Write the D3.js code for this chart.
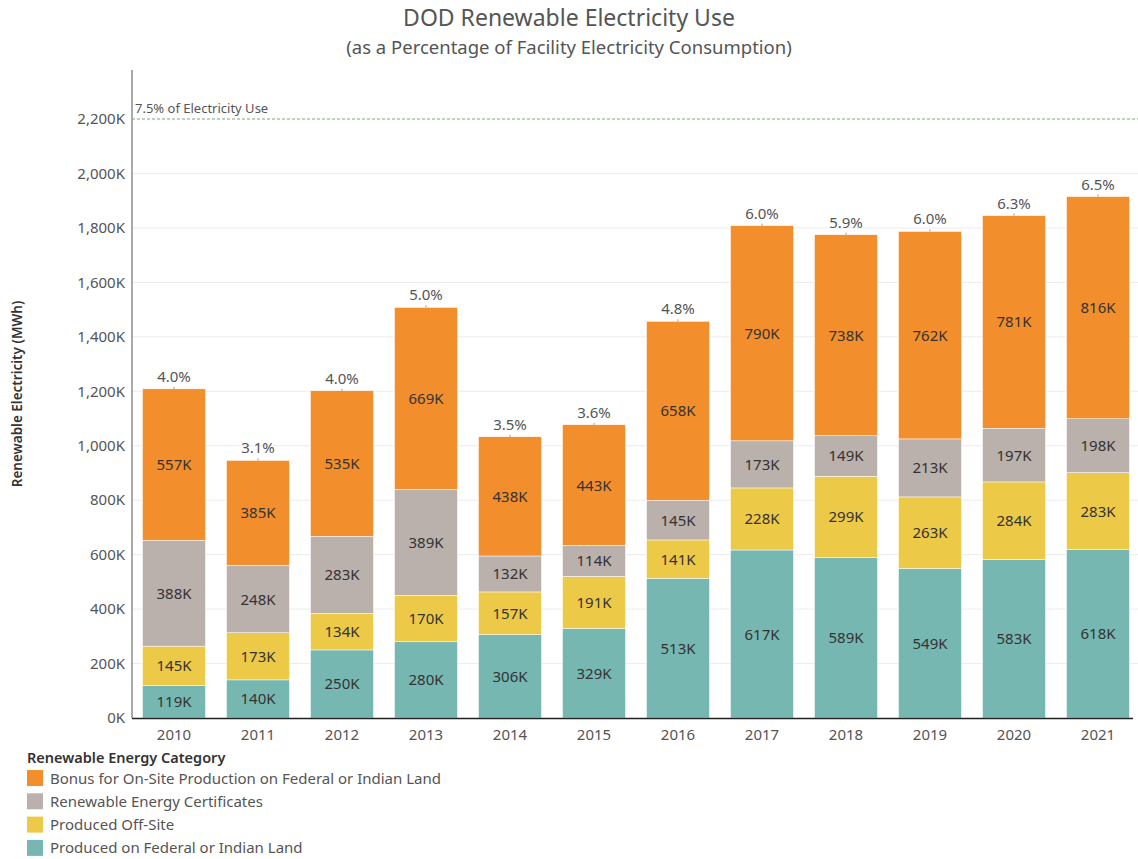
<!DOCTYPE html>
<meta charset="utf-8">
<style>
body { margin: 0; background: #fff; }
svg { font-family: "Noto Sans", sans-serif; }
</style>
<script src="https://d3js.org/d3.v7.min.js"></script>
<svg width="1138" height="859"></svg>
<script>
// values in thousands of MWh
var years = ["2010","2011","2012","2013","2014","2015","2016","2017","2018","2019","2020","2021"];
var federal = [119,140,250,280,306,329,513,617,589,549,583,618];
var offsite = [145,173,134,170,157,191,141,228,299,263,284,283];
var recs    = [388,248,283,389,132,114,145,173,149,213,197,198];
var bonus   = [557,385,535,669,438,443,658,790,738,762,781,816];
var pct     = ["4.0%","3.1%","4.0%","5.0%","3.5%","3.6%","4.8%","6.0%","5.9%","6.0%","6.3%","6.5%"];
var yTicks  = [0,200,400,600,800,1000,1200,1400,1600,1800,2000,2200];
var refValue = 2200, refLabel = "7.5% of Electricity Use";

var keys = ["federal","offsite","recs","bonus"];
var names = {
  bonus: "Bonus for On-Site Production on Federal or Indian Land",
  recs: "Renewable Energy Certificates",
  offsite: "Produced Off-Site",
  federal: "Produced on Federal or Indian Land"
};
var colors = {federal:"#76B7B2", offsite:"#EDC948", recs:"#BAB0AC", bonus:"#F28E2B"};

var rows = years.map(function(y, i) {
  return {year: y, federal: federal[i], offsite: offsite[i], recs: recs[i], bonus: bonus[i], pct: pct[i]};
});

var svg = d3.select("svg");
var plotLeft = 132, plotRight = 1140, plotTop = 70, plotBottom = 718;

var x = d3.scaleBand().domain(years).range([plotLeft, plotRight]).paddingInner(0.25).paddingOuter(0.125);
var y = d3.scaleLinear().domain([0, 2200]).range([plotBottom, 119]);

// titles
svg.append("text").attr("x", 569).attr("y", 26).attr("text-anchor", "middle")
  .attr("font-size", 23).attr("fill", "#555").text("DOD Renewable Electricity Use");
svg.append("text").attr("x", 569).attr("y", 54).attr("text-anchor", "middle")
  .attr("font-size", 18.5).attr("fill", "#555").text("(as a Percentage of Facility Electricity Consumption)");

// grid
svg.append("g").selectAll("line").data(yTicks.slice(1, -1)).enter().append("line")
  .attr("x1", plotLeft).attr("x2", plotRight).attr("y1", function(d){ return y(d); }).attr("y2", function(d){ return y(d); })
  .attr("stroke", "#ececec").attr("stroke-width", 1);

// y axis
var yAxis = svg.append("g").attr("transform", "translate(" + plotLeft + ",0)")
  .call(d3.axisLeft(y).tickValues(yTicks).tickSize(0).tickPadding(7)
    .tickFormat(function(d){ return d3.format(",")(d) + "K"; }));
yAxis.select(".domain").remove();
yAxis.selectAll("text").attr("font-size", 15).attr("fill", "#555").attr("font-family", "Noto Sans, sans-serif");
svg.append("line").attr("x1", plotLeft).attr("x2", plotLeft).attr("y1", plotTop).attr("y2", plotBottom)
  .attr("stroke", "#555").attr("stroke-width", 1);

svg.append("text").attr("transform", "translate(22," + ((plotTop + plotBottom) / 2) + ") rotate(-90)")
  .attr("text-anchor", "middle").attr("font-size", 13.5).attr("font-weight", 600).attr("fill", "#333")
  .text("Renewable Electricity (MWh)");

// stacked bars
var stack = d3.stack().keys(keys)(rows);
var layer = svg.append("g").selectAll("g").data(stack).enter().append("g")
  .attr("fill", function(d){ return colors[d.key]; });
layer.selectAll("rect").data(function(d){ return d; }).enter().append("rect")
  .attr("x", function(d){ return x(d.data.year); })
  .attr("width", x.bandwidth())
  .attr("y", function(d){ return y(d[1]); })
  .attr("height", function(d){ return y(d[0]) - y(d[1]); })
  .attr("stroke", "#fff").attr("stroke-width", 0.5);
layer.selectAll("text").data(function(d){ return d; }).enter().append("text")
  .attr("x", function(d){ return x(d.data.year) + x.bandwidth() / 2; })
  .attr("y", function(d){ return (y(d[0]) + y(d[1])) / 2 + 5.5; })
  .attr("text-anchor", "middle").attr("font-size", 15).attr("fill", "#333")
  .text(function(d){ return (d[1] - d[0]) + "K"; });

// totals percentage labels
var totals = svg.append("g").selectAll("g").data(rows).enter().append("g");
function total(d){ return d.federal + d.offsite + d.recs + d.bonus; }
totals.append("line")
  .attr("x1", function(d){ return x(d.year) + x.bandwidth() / 2; })
  .attr("x2", function(d){ return x(d.year) + x.bandwidth() / 2; })
  .attr("y1", function(d){ return y(total(d)) - 2; })
  .attr("y2", function(d){ return y(total(d)); })
  .attr("stroke", "#999");
totals.append("text")
  .attr("x", function(d){ return x(d.year) + x.bandwidth() / 2; })
  .attr("y", function(d){ return y(total(d)) - 7; })
  .attr("text-anchor", "middle").attr("font-size", 15).attr("fill", "#555")
  .text(function(d){ return d.pct; });

// reference line
svg.append("line").attr("x1", plotLeft).attr("x2", plotRight).attr("y1", y(refValue)).attr("y2", y(refValue))
  .attr("stroke", "#7aa86f").attr("stroke-width", 1).attr("stroke-dasharray", "3,2");
svg.append("text").attr("x", plotLeft + 3).attr("y", y(refValue) - 6)
  .attr("font-size", 13).attr("fill", "#555").text(refLabel);

// x axis
var xAxis = svg.append("g").attr("transform", "translate(0," + plotBottom + ")")
  .call(d3.axisBottom(x).tickSize(0).tickPadding(11));
xAxis.select(".domain").remove();
xAxis.selectAll("text").attr("font-size", 15).attr("fill", "#555").attr("font-family", "Noto Sans, sans-serif");
svg.append("line").attr("x1", plotLeft).attr("x2", 1133).attr("y1", plotBottom + 0.5).attr("y2", plotBottom + 0.5)
  .attr("stroke", "#222").attr("stroke-width", 1.5);

// legend
var legend = svg.append("g").attr("transform", "translate(27,0)");
legend.append("text").attr("x", 0).attr("y", 763).attr("font-size", 14.5).attr("font-weight", 600)
  .attr("fill", "#333").text("Renewable Energy Category");
var legendKeys = ["bonus","recs","offsite","federal"];
var item = legend.selectAll("g.item").data(legendKeys).enter().append("g")
  .attr("transform", function(d, i){ return "translate(0," + (770 + i * 23.3) + ")"; });
item.append("rect").attr("width", 16).attr("height", 16).attr("fill", function(d){ return colors[d]; });
item.append("text").attr("x", 23).attr("y", 13.5).attr("font-size", 15).attr("fill", "#555")
  .text(function(d){ return names[d]; });
</script>
